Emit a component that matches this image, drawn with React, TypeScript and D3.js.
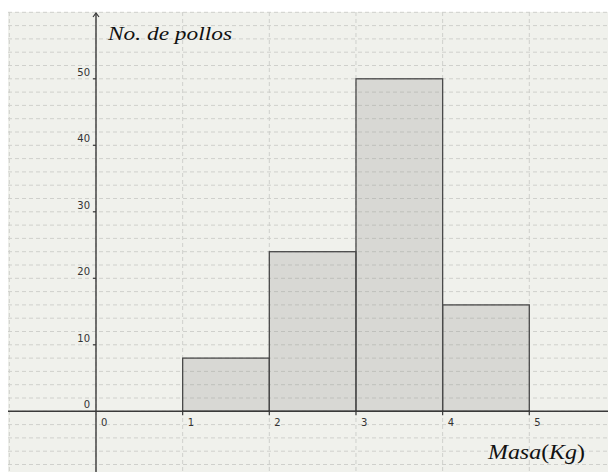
import React, { useEffect, useRef } from 'react';
import * as d3 from 'd3';

// histograma: intervalos de masa (kg) y número de pollos
const binStarts = [1, 2, 3, 4];
const binEnds = [2, 3, 4, 5];
const counts = [8, 24, 50, 16];

const xTickValues = [0, 1, 2, 3, 4, 5];
const yTickValues = [0, 10, 20, 30, 40, 50];

const yLabel = "No. de pollos";
const xLabelParts = [
  { text: "Masa", italic: true },
  { text: "(", italic: false },
  { text: "Kg", italic: true },
  { text: ")", italic: false },
];

const App = () => {
  const svgRef = useRef<SVGSVGElement>(null);

  useEffect(() => {
    const W = 608, H = 472;
    const panel = { x: 8, y: 12, w: 600, h: 460 };

    const svg = d3.select(svgRef.current);
    svg.selectAll("*").remove();
    svg.attr("width", W).attr("height", H);

    // escalas (unidad x ≈ 86.7 px, unidad y ≈ 6.65 px)
    const x = d3.scaleLinear().domain([0, 5]).range([96, 529.3]);
    const y = d3.scaleLinear().domain([0, 60]).range([411.3, 12.3]);

    const xMin = x.invert(panel.x), xMax = x.invert(panel.x + panel.w);
    const yMin = y.invert(panel.y + panel.h), yMax = y.invert(panel.y);

    svg.append("rect")
      .attr("x", panel.x).attr("y", panel.y)
      .attr("width", panel.w).attr("height", panel.h)
      .attr("fill", "#f0f1ec");

    const g = svg.append("g");

    // rejilla
    const gridColor = "#cfd0cc";
    d3.range(Math.ceil(xMin), Math.floor(xMax) + 1, 1).forEach(v => {
      g.append("line")
        .attr("x1", x(v)).attr("x2", x(v))
        .attr("y1", panel.y).attr("y2", panel.y + panel.h)
        .attr("stroke", gridColor).attr("stroke-width", 1)
        .attr("stroke-dasharray", "4,3");
    });
    d3.range(Math.ceil(yMin / 2) * 2, yMax + 0.01, 2).forEach(v => {
      g.append("line")
        .attr("x1", panel.x).attr("x2", panel.x + panel.w)
        .attr("y1", y(v)).attr("y2", y(v))
        .attr("stroke", gridColor).attr("stroke-width", 1)
        .attr("stroke-dasharray", "4,3");
    });

    // barras
    g.selectAll("rect.bar")
      .data(counts)
      .enter().append("rect")
      .attr("class", "bar")
      .attr("x", (d, i) => x(binStarts[i]))
      .attr("y", d => y(d))
      .attr("width", (d, i) => x(binEnds[i]) - x(binStarts[i]))
      .attr("height", d => y(0) - y(d))
      .attr("fill", "#8f918b").attr("fill-opacity", 0.25)
      .attr("stroke", "#4a4a4a").attr("stroke-width", 1.3);

    // ejes
    const axisColor = "#3a3a3a";
    g.append("line")
      .attr("x1", panel.x).attr("x2", panel.x + panel.w)
      .attr("y1", y(0)).attr("y2", y(0))
      .attr("stroke", axisColor).attr("stroke-width", 1.4);
    g.append("line")
      .attr("x1", x(0)).attr("x2", x(0))
      .attr("y1", panel.y + 1).attr("y2", panel.y + panel.h)
      .attr("stroke", axisColor).attr("stroke-width", 1.4);
    g.append("path")
      .attr("d", `M${x(0) - 3},${panel.y + 5} L${x(0)},${panel.y + 1} L${x(0) + 3},${panel.y + 5}`)
      .attr("fill", "none").attr("stroke", axisColor).attr("stroke-width", 1.2);

    // marcas y etiquetas del eje x
    xTickValues.forEach(v => {
      if (v !== 0) {
        g.append("line")
          .attr("x1", x(v)).attr("x2", x(v))
          .attr("y1", y(0) - 1).attr("y2", y(0) + 4)
          .attr("stroke", axisColor).attr("stroke-width", 1.2);
      }
      g.append("text")
        .attr("x", x(v) + 5).attr("y", y(0) + 15)
        .attr("font-family", "DejaVu Sans").attr("font-size", 10)
        .attr("fill", "#333")
        .text(v);
    });

    // marcas y etiquetas del eje y
    yTickValues.forEach(v => {
      if (v !== 0) {
        g.append("line")
          .attr("x1", x(0) - 3).attr("x2", x(0))
          .attr("y1", y(v)).attr("y2", y(v))
          .attr("stroke", axisColor).attr("stroke-width", 1.2);
      }
      g.append("text")
        .attr("x", x(0) - 6).attr("y", y(v) - 3)
        .attr("text-anchor", "end")
        .attr("font-family", "DejaVu Sans").attr("font-size", 10)
        .attr("fill", "#333")
        .text(v);
    });

    // títulos de los ejes
    g.append("text")
      .attr("x", 108).attr("y", 40)
      .attr("font-family", "Liberation Serif").attr("font-style", "italic")
      .attr("font-size", 19).attr("fill", "#111")
      .attr("textLength", 124).attr("lengthAdjust", "spacingAndGlyphs")
      .text(yLabel);

    const xl = g.append("text")
      .attr("x", 488).attr("y", 459)
      .attr("font-family", "Liberation Serif")
      .attr("font-size", 20).attr("fill", "#111")
      .attr("textLength", 97).attr("lengthAdjust", "spacingAndGlyphs");
    xLabelParts.forEach(p => {
      xl.append("tspan")
        .attr("font-style", p.italic ? "italic" : "normal")
        .text(p.text);
    });
  }, []);

  return (
    <svg ref={svgRef} style={{ position: "absolute", left: 0, top: 0, display: "block" }}></svg>
  );
};

export default App;
